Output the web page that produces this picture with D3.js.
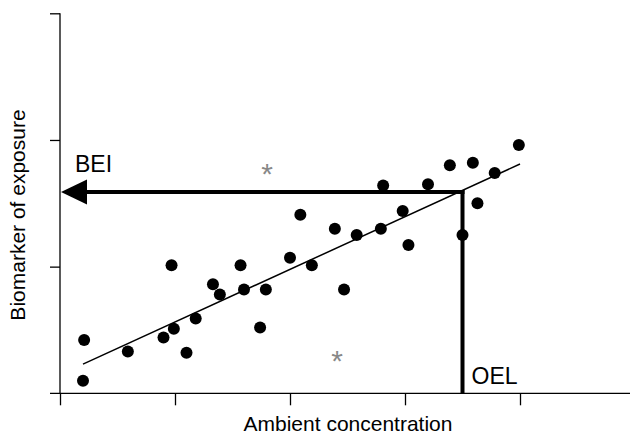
<!DOCTYPE html>
<html>
<head>
<meta charset="utf-8">
<script src="https://cdn.jsdelivr.net/npm/d3@7"></script>
<style>
  body { margin: 0; background: #fff; }
  svg { display: block; font-family: "Liberation Sans", Arial, Helvetica, sans-serif; }
</style>
</head>
<body>
<svg width="630" height="436"></svg>
<script>
// measured points (ambient concentration, biomarker)
var ambient = [0.21, 0.20, 0.59, 0.90, 0.97, 0.99, 1.10, 1.18, 1.33, 1.39, 1.57, 1.60, 1.74, 1.79,
               2.00, 2.09, 2.19, 2.39, 2.47, 2.58, 2.79, 2.81, 2.98, 3.03, 3.20, 3.39, 3.50, 3.59,
               3.63, 3.78, 3.99];
var biomarker = [0.42, 0.10, 0.33, 0.44, 1.01, 0.51, 0.32, 0.59, 0.86, 0.78, 1.01, 0.82, 0.52, 0.82,
                 1.07, 1.41, 1.01, 1.30, 0.82, 1.25, 1.30, 1.64, 1.44, 1.17, 1.65, 1.80, 1.25, 1.82,
                 1.50, 1.74, 1.96];
// regression line end points
var fitX = [0.2, 4.0];
var fitY = [0.23, 1.81];
// limits
var oel = 3.5, bei = 1.59;
// outlier asterisks
var starX = [1.80, 2.41];
var starY = [1.79, 0.31];
var xTicks = [0, 1, 2, 3, 4];
var yTicks = [1, 2, 3];

var svg = d3.select("svg");

var x = d3.scaleLinear().domain([0, 4]).range([60, 520]);
var y = d3.scaleLinear().domain([0, 3]).range([393.3, 13.3]);

var points = ambient.map(function(d, i) { return {x: d, y: biomarker[i]}; });

// axes
var xAxis = svg.append("g")
    .attr("transform", "translate(0," + y(0) + ")")
    .call(d3.axisBottom(x).tickValues(xTicks).tickSize(12).tickFormat(""));
xAxis.select(".domain").remove();
xAxis.selectAll("line").attr("stroke-width", 1.3);
xAxis.append("line")
    .attr("x1", 50).attr("x2", 630)
    .attr("stroke", "#000").attr("stroke-width", 1.3);

var yAxis = svg.append("g")
    .attr("transform", "translate(" + x(0) + ",0)")
    .call(d3.axisLeft(y).tickValues(yTicks).tickSize(10).tickFormat(""));
yAxis.select(".domain").remove();
yAxis.selectAll("line").attr("stroke-width", 1.3);
yAxis.append("line")
    .attr("y1", y(3)).attr("y2", y(0))
    .attr("stroke", "#000").attr("stroke-width", 1.3);

// axis titles
svg.append("text")
    .attr("x", 348).attr("y", 431)
    .attr("text-anchor", "middle")
    .style("font-size", "21px")
    .text("Ambient concentration");

svg.append("text")
    .attr("transform", "translate(25,215) rotate(-90)")
    .attr("text-anchor", "middle")
    .style("font-size", "21px")
    .text("Biomarker of exposure");

// regression line
svg.append("line")
    .attr("x1", x(fitX[0])).attr("y1", y(fitY[0]))
    .attr("x2", x(fitX[1])).attr("y2", y(fitY[1]))
    .attr("stroke", "#000").attr("stroke-width", 1.5);

// BEI arrow and OEL line
svg.append("line")
    .attr("x1", x(0) + 24).attr("x2", x(oel) + 2)
    .attr("y1", y(bei)).attr("y2", y(bei))
    .attr("stroke", "#000").attr("stroke-width", 4);

svg.append("path")
    .attr("d", "M" + (x(0) + 1) + "," + y(bei) +
               "L" + (x(0) + 27) + "," + (y(bei) - 12.5) +
               "L" + (x(0) + 27) + "," + (y(bei) + 12.5) + "Z")
    .attr("fill", "#000");

svg.append("line")
    .attr("x1", x(oel)).attr("x2", x(oel))
    .attr("y1", y(bei) - 2).attr("y2", y(0))
    .attr("stroke", "#000").attr("stroke-width", 4);

svg.append("text")
    .attr("x", 75).attr("y", y(bei) - 20)
    .style("font-size", "23px")
    .text("BEI");

svg.append("text")
    .attr("x", x(oel) + 9).attr("y", 384)
    .style("font-size", "23px")
    .text("OEL");

// points
svg.append("g").selectAll("circle")
    .data(points)
    .enter().append("circle")
      .attr("cx", function(d) { return x(d.x); })
      .attr("cy", function(d) { return y(d.y); })
      .attr("r", 6)
      .attr("fill", "#000");

// asterisks
svg.append("g").selectAll("text")
    .data(starX)
    .enter().append("text")
      .attr("x", function(d) { return x(d); })
      .attr("y", function(d, i) { return y(starY[i]) + 17; })
      .attr("text-anchor", "middle")
      .attr("fill", "#888")
      .style("font-size", "30px")
      .text("*");
</script>
</body>
</html>
